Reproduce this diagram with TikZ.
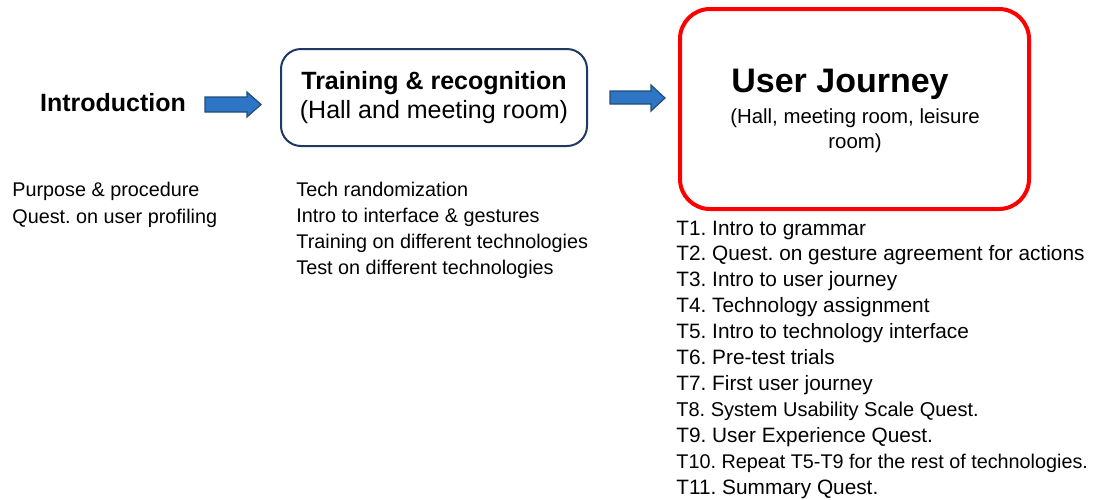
\documentclass[tikz,border=0pt]{standalone}
\usepackage{fontspec}
\setmainfont{Liberation Sans}
\frenchspacing
\definecolor{navy}{HTML}{1F3864}
\definecolor{arrowblue}{HTML}{2E75C6}
\definecolor{arrowedge}{HTML}{1F4E79}
\tikzset{
  phase/.style={draw=navy, line width=1pt, rounded corners=10pt, minimum width=153pt, minimum height=48.5pt, align=center, inner sep=0pt},
  mainphase/.style={draw=red, line width=2pt, rounded corners=15pt, minimum width=174.5pt, minimum height=100pt, inner sep=0pt},
  flowarrow/.style={draw=arrowedge, fill=arrowblue, line width=0.6pt, line join=miter},
  item/.style={anchor=base west, inner sep=0pt}
}
\begin{document}
\begin{tikzpicture}[x=0.5pt, y=-0.5pt]
  \useasboundingbox (0,0) rectangle (1094,499);

  \node[font=\fontsize{12.5}{15}\selectfont\bfseries] (intro) at (113,103) {Introduction};
  \node[phase, font=\fontsize{12.5}{14.5}\selectfont] (train) at (434,97.5) {\textbf{Training \& recognition}\\(Hall and meeting room)};
  \node[mainphase] (journey) at (854.5,109) {};
  \node[font=\fontsize{17}{20}\selectfont\bfseries] (jtitle) at (840,84) {User Journey};
  \node[font=\fontsize{10.2}{12.5}\selectfont, align=center] (jsub) at (855,131) {(Hall, meeting room, leisure\\room)};

  % block arrows between the phases
  \draw[flowarrow] (205,97) -- (247,97) -- (247,92) -- (261,104.5) -- (247,117) -- (247,112) -- (205,112) -- cycle;
  \draw[flowarrow] (610,91) -- (651,91) -- (651,85) -- (665,98) -- (651,111) -- (651,104) -- (610,104) -- cycle;

  % steps of each phase
  \foreach \i/\t in {0/Purpose \& procedure, 1/Quest. on user profiling} {
    \node[item, font=\fontsize{9.9}{12}\selectfont] (p\i) at ({12},{196+27*\i}) {\t};
  }
  \foreach \i/\t in {0/Tech randomization, 1/Intro to interface \& gestures,
                     2/Training on different technologies, 3/Test on different technologies} {
    \node[item, font=\fontsize{9.9}{12}\selectfont] (r\i) at ({296},{196+26.3*\i}) {\t};
  }
  \foreach \i/\s/\t in {0/10.4/T1. Intro to grammar, 1/10.4/T2. Quest. on gesture agreement for actions,
                        2/10.4/T3. Intro to user journey, 3/10.4/T4. Technology assignment,
                        4/10.4/T5. Intro to technology interface, 5/10.4/T6. Pre-test trials,
                        6/10.4/T7. First user journey, 7/10/T8. System Usability Scale Quest.,
                        8/10.4/T9. User Experience Quest., 9/9.9/T10. Repeat T5-T9 for the rest of technologies.,
                        10/10.4/T11. Summary Quest.} {
    \node[item, font=\fontsize{\s}{12}\selectfont] (t\i) at ({676},{235+25.9*\i}) {\t};
  }
\end{tikzpicture}
\end{document}
